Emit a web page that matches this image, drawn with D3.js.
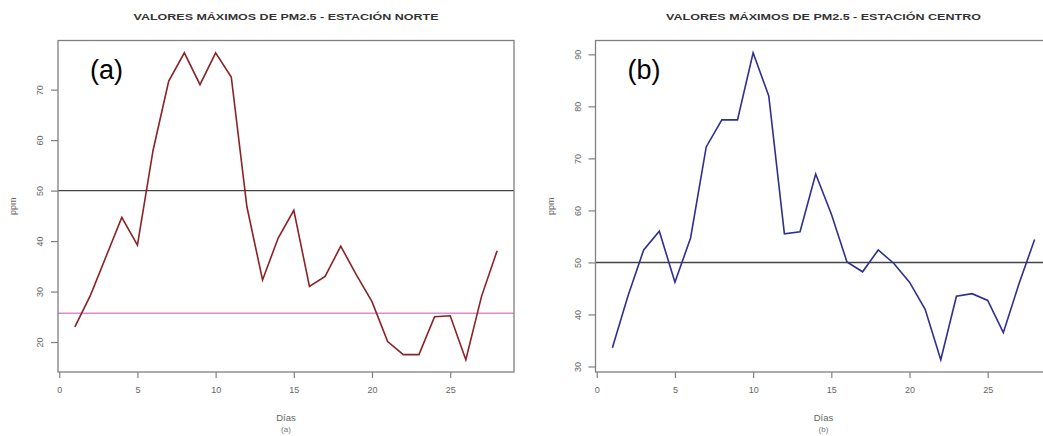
<!DOCTYPE html>
<html>
<head>
<meta charset="utf-8">
<script src="https://cdn.jsdelivr.net/npm/d3@7"></script>
<style>
  body { margin: 0; background: #fff; }
  svg { display: block; }
</style>
</head>
<body>
<svg id="chart" width="1043" height="436"></svg>
<script>
// Daily maximum PM2.5 readings for two monitoring stations
const days = d3.range(1, 29);
const norteValues = [23.0, 29.3, 37.0, 44.7, 39.2, 58.0, 71.7, 77.3, 71.0, 77.3, 72.5, 46.8,
  32.3, 40.6, 46.1, 31.0, 33.0, 39.0, 33.3, 28.0, 20.1, 17.5, 17.5, 25.0, 25.2, 16.5, 29.0, 38.1];
const centroValues = [33.6, 43.6, 52.4, 56.0, 46.2, 54.7, 72.2, 77.4, 77.4, 90.3, 82.0, 55.5,
  55.9, 67.0, 59.3, 50.1, 48.2, 52.4, 49.8, 46.2, 41.0, 31.3, 43.5, 44.0, 42.7, 36.5, 45.9, 54.4];

const xTicks = [0, 5, 10, 15, 20, 25];
const norteYTicks = [20, 30, 40, 50, 60, 70];
const centroYTicks = [30, 40, 50, 60, 70, 80, 90];
const norteRefLines = [50, 25.7];
const centroRefLines = [50];
const panelTitles = ["VALORES MÁXIMOS DE PM2.5 - ESTACIÓN NORTE", "VALORES MÁXIMOS DE PM2.5 - ESTACIÓN CENTRO"];
const panelTags = ["(a)", "(b)"];
const subCaptions = ["(a)", "(b)"];

const svg = d3.select("#chart");
const font = "Liberation Sans, Arial, sans-serif";

const panels = [
  { left: 58, right: 514, values: norteValues, yTicks: norteYTicks, refs: norteRefLines,
    refColors: ["#444", "#e08ad0"], lineColor: "#8b2226", titleWidth: 305 },
  { left: 595.5, right: 1051.5, values: centroValues, yTicks: centroYTicks, refs: centroRefLines,
    refColors: ["#444"], lineColor: "#2f2f8f", titleWidth: 315 }
];
const plotTop = 40.5, plotBottom = 372;

// R-style 4% padding around the data range
function padded(ext) {
  const r = ext[1] - ext[0];
  return [ext[0] - 0.04 * r, ext[1] + 0.04 * r];
}

panels.forEach((p, i) => {
  const g = svg.append("g");
  const x = d3.scaleLinear().domain(padded(d3.extent(days))).range([p.left, p.right]);
  const y = d3.scaleLinear().domain(padded(d3.extent(p.values))).range([plotBottom, plotTop]);
  const cx = (p.left + p.right) / 2;

  // title
  g.append("text")
    .attr("x", cx).attr("y", 19.5)
    .attr("text-anchor", "middle")
    .attr("font-family", font)
    .attr("font-weight", "bold")
    .attr("font-size", 9.5)
    .attr("textLength", p.titleWidth)
    .attr("lengthAdjust", "spacingAndGlyphs")
    .attr("fill", "#333")
    .text(panelTitles[i]);

  // reference lines
  p.refs.forEach((v, k) => {
    g.append("line")
      .attr("x1", p.left).attr("x2", p.right)
      .attr("y1", y(v)).attr("y2", y(v))
      .attr("stroke", p.refColors[k])
      .attr("stroke-width", 1.4);
  });

  // series
  const line = d3.line().x((d, j) => x(days[j])).y(d => y(d));
  g.append("path")
    .datum(p.values)
    .attr("d", line)
    .attr("fill", "none")
    .attr("stroke", p.lineColor)
    .attr("stroke-width", 1.6)
    .attr("stroke-linejoin", "miter");

  // plot box
  g.append("rect")
    .attr("x", p.left).attr("y", plotTop)
    .attr("width", p.right - p.left).attr("height", plotBottom - plotTop)
    .attr("fill", "none")
    .attr("stroke", "#808080")
    .attr("stroke-width", 1.3);

  // x axis
  const xAxis = g.append("g")
    .attr("transform", `translate(0,${plotBottom})`)
    .call(d3.axisBottom(x).tickValues(xTicks).tickSize(6).tickPadding(9).tickSizeOuter(0));
  xAxis.select(".domain").remove();
  xAxis.selectAll("line").attr("stroke", "#808080").attr("stroke-width", 1.2);
  xAxis.selectAll("text")
    .attr("font-family", font)
    .attr("font-size", 9)
    .attr("fill", "#666");

  // y axis with labels parallel to the axis
  const yAxis = g.append("g")
    .attr("transform", `translate(${p.left},0)`)
    .call(d3.axisLeft(y).tickValues(p.yTicks).tickSize(7).tickSizeOuter(0));
  yAxis.select(".domain").remove();
  yAxis.selectAll("line").attr("stroke", "#808080").attr("stroke-width", 1.2);
  yAxis.selectAll("text")
    .attr("x", null).attr("dy", null)
    .attr("transform", "translate(-18,0) rotate(-90)")
    .attr("text-anchor", "middle")
    .attr("dominant-baseline", "central")
    .attr("font-family", font)
    .attr("font-size", 9)
    .attr("fill", "#666");

  // axis titles
  g.append("text")
    .attr("transform", `translate(${p.left - 45},${(plotTop + plotBottom) / 2}) rotate(-90)`)
    .attr("text-anchor", "middle")
    .attr("dominant-baseline", "central")
    .attr("font-family", font)
    .attr("font-size", 9)
    .attr("fill", "#666")
    .text("ppm");
  g.append("text")
    .attr("x", cx).attr("y", 421)
    .attr("text-anchor", "middle")
    .attr("font-family", font)
    .attr("font-size", 9.5)
    .attr("fill", "#666")
    .text("Días");
  g.append("text")
    .attr("x", cx).attr("y", 432)
    .attr("text-anchor", "middle")
    .attr("font-family", font)
    .attr("font-size", 8)
    .attr("fill", "#777")
    .text(subCaptions[i]);

  // panel tag
  g.append("text")
    .attr("x", p.left + 32).attr("y", 79)
    .attr("font-family", font)
    .attr("font-size", 27)
    .attr("fill", "#000")
    .text(panelTags[i]);
});
</script>
</body>
</html>
